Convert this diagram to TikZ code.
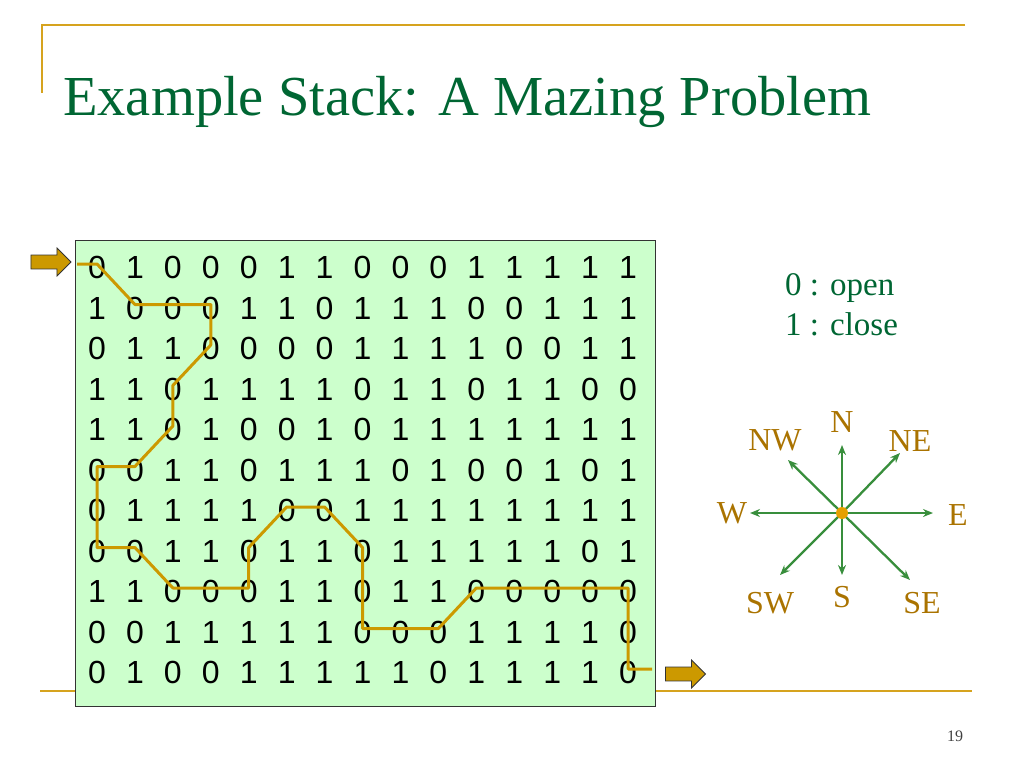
\documentclass[tikz,border=0pt]{standalone}
\usepackage{fontspec}
\setmainfont{Liberation Serif}
\newfontfamily\gridfont{Liberation Sans}
\usepackage{tikz}
\usepackage{xcolor}
\usetikzlibrary{shapes.arrows, arrows.meta, positioning}

\definecolor{slidegold}{RGB}{214,163,30}
\definecolor{titlegreen}{RGB}{0,102,51}
\definecolor{boardgreen}{RGB}{204,255,204}
\definecolor{mazegold}{RGB}{204,153,0}
\definecolor{compassgreen}{RGB}{56,142,60}
\definecolor{dirgold}{RGB}{170,115,0}
\definecolor{hubgold}{RGB}{230,160,0}

\begin{document}
\begin{tikzpicture}[x=1pt, y=-1pt,
  rule/.style={draw=slidegold, line width=2pt},
  title/.style={font=\fontsize{56.5}{56.5}\selectfont, text=titlegreen, inner sep=0pt},
  board/.style={draw=black!80, fill=boardgreen, line width=0.8pt},
  cell/.style={font=\gridfont\fontsize{32}{32}\selectfont, inner sep=0pt},
  mazepath/.style={draw=mazegold, line width=3pt, line join=round, transform canvas={yshift=3.5pt}},
  blockarrow/.style={single arrow, draw=black!80, fill=mazegold, line width=0.8pt,
    minimum height=40pt, minimum width=28pt, single arrow head extend=7pt, inner sep=6.5pt},
  legend/.style={font=\fontsize{33}{33}\selectfont, text=titlegreen, inner sep=0pt},
  compass/.style={draw=compassgreen, line width=2.3pt, -{Stealth[length=10pt, width=8pt]}},
  hubdot/.style={circle, fill=hubgold, minimum size=12pt, inner sep=0pt},
  dirlabel/.style={font=\fontsize{32}{32}\selectfont, text=dirgold, inner sep=0pt},
  pagenum/.style={font=\fontsize{16}{16}\selectfont, text=black!75, inner sep=0pt}]
\useasboundingbox (0,0) rectangle (1024,768);

\draw[rule] (965,25) -- (42,25) -- (42,93);
\draw[rule] (40,691) -- (972,691);
\node[title, anchor=base west] (title) at (63,115) {Example Stack: A Mazing Problem};

\draw[board] (75,240) rectangle (655,706);
\foreach \row [count=\r from 0] in {
  {0,1,0,0,0,1,1,0,0,0,1,1,1,1,1},
  {1,0,0,0,1,1,0,1,1,1,0,0,1,1,1},
  {0,1,1,0,0,0,0,1,1,1,1,0,0,1,1},
  {1,1,0,1,1,1,1,0,1,1,0,1,1,0,0},
  {1,1,0,1,0,0,1,0,1,1,1,1,1,1,1},
  {0,0,1,1,0,1,1,1,0,1,0,0,1,0,1},
  {0,1,1,1,1,0,0,1,1,1,1,1,1,1,1},
  {0,0,1,1,0,1,1,0,1,1,1,1,1,0,1},
  {1,1,0,0,0,1,1,0,1,1,0,0,0,0,0},
  {0,0,1,1,1,1,1,0,0,0,1,1,1,1,0},
  {0,1,0,0,1,1,1,1,1,0,1,1,1,1,0}}
  \foreach \v [count=\c from 0] in \row
    \node[cell] (c\r-\c) at (97+37.93*\c, 267.5+40.5*\r) {\v};

\coordinate (mazein) at (77,267.5);
\coordinate (mazeout) at (652,672.5);
\draw[mazepath] (mazein)
  \foreach \p in {0-0,1-1,1-3,2-3,3-2,4-2,5-1,5-0,7-0,7-1,8-2,8-4,7-4,6-5,6-6,7-7,9-7,9-9,8-10,8-14,10-14}
    { -- (c\p.center) } -- (mazeout);

\node[blockarrow] (entry) at (47.5,262) {};
\node[blockarrow] (exit) at (682,674) {};

\node[legend, anchor=base west] (open) at (785,295) {0 : open};
\node[legend, below=10pt of open.south west, anchor=north west] (close) {1 : close};

\coordinate (hub) at (842,513);
\foreach \d/\px/\py in {N/842/445, NE/900/453, E/933/513, SE/910/580, S/842/575, SW/780/575, W/750/513, NW/788/460}
  {
  \coordinate (tip\d) at (\px,\py);
  \draw[compass] (hub) -- (tip\d);
  }
\node[hubdot] (dot) at (hub) {};
\foreach \d/\px/\py in {N/842/422, NE/910/441, E/958/515, SE/922/603, S/842/597, SW/770/603, W/732/513, NW/775/440}
  \node[dirlabel] (lab\d) at (\px,\py) {\d};

\node[pagenum, anchor=base west] (page) at (947,741) {19};
\end{tikzpicture}
\end{document}
